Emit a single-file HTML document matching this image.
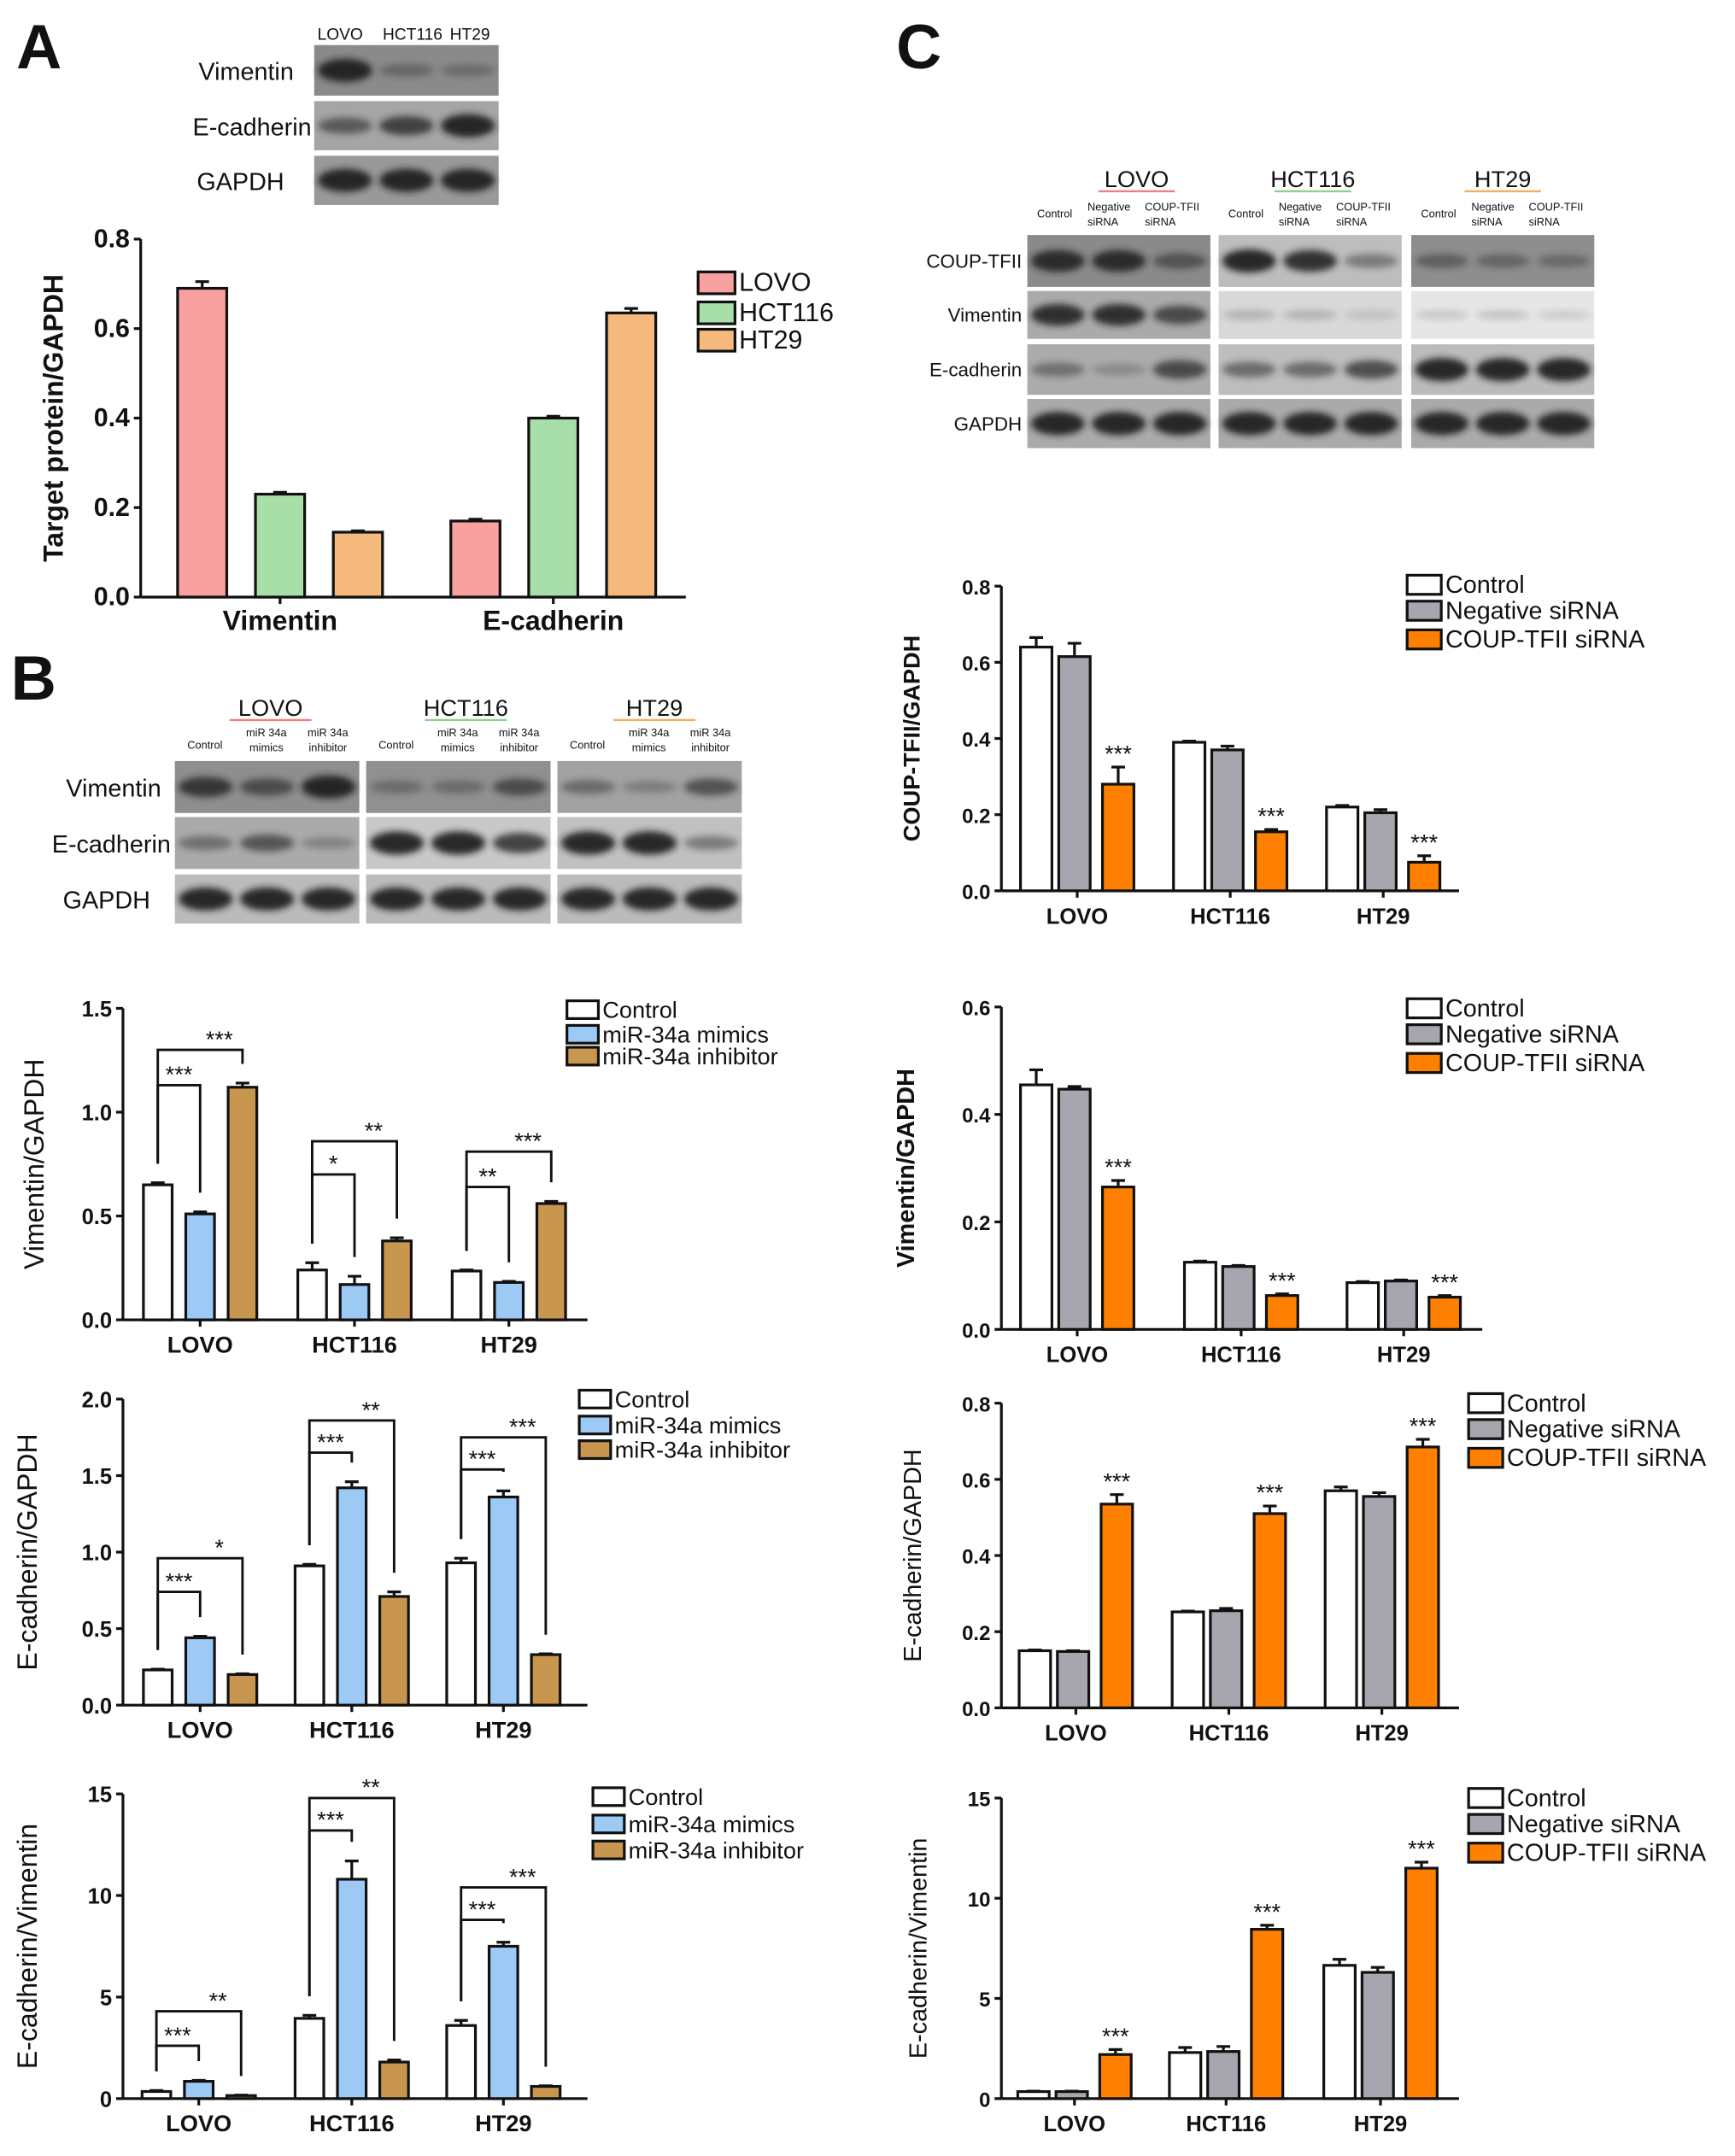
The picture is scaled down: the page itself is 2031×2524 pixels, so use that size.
<!DOCTYPE html>
<html><head><meta charset="utf-8"><style>
html,body{margin:0;padding:0;background:#fff;}
svg{display:block;}
text{font-family:"Liberation Sans",Arial,sans-serif;}
</style></head><body>
<svg id="fig" xmlns="http://www.w3.org/2000/svg" width="2031" height="2524" viewBox="0 0 1270 1578" preserveAspectRatio="none">
<defs><filter id="blur" x="-20%" y="-50%" width="140%" height="200%"><feGaussianBlur stdDeviation="2.5"/></filter></defs>
</svg>
<script>
// ---------- Panel A data ----------
const aCategories = ['Vimentin', 'E-cadherin'];
const aSeries = ['LOVO', 'HCT116', 'HT29'];
const aLOVO = [0.69, 0.17];
const aHCT116 = [0.23, 0.40];
const aHT29 = [0.145, 0.635];
const aErrLOVO = [0.015, 0.004];
const aErrHCT116 = [0.004, 0.004];
const aErrHT29 = [0.003, 0.01];
const aTicks = ['0.0', '0.2', '0.4', '0.6', '0.8'];
// ---------- Panel B data ----------
const bGroups = ['LOVO', 'HCT116', 'HT29'];
const bSeries = ['Control', 'miR-34a mimics', 'miR-34a inhibitor'];
const bVimControl = [0.65, 0.24, 0.235];
const bVimMimics = [0.51, 0.17, 0.18];
const bVimInhib = [1.12, 0.38, 0.56];
const bVimErrControl = [0.01, 0.035, 0.005];
const bVimErrMimics = [0.01, 0.04, 0.005];
const bVimErrInhib = [0.02, 0.015, 0.01];
const bVimTicks = ['0.0', '0.5', '1.0', '1.5'];
const bVimBrackets = [[0, 1, 1.13, '***'], [0, 2, 1.3, '***'], [1, 1, 0.7, '*'], [1, 2, 0.86, '**'], [2, 1, 0.64, '**'], [2, 2, 0.81, '***']];
const bEcControl = [0.23, 0.91, 0.93];
const bEcMimics = [0.44, 1.42, 1.36];
const bEcInhib = [0.20, 0.71, 0.33];
const bEcErrControl = [0.005, 0.01, 0.03];
const bEcErrMimics = [0.01, 0.04, 0.04];
const bEcErrInhib = [0.005, 0.03, 0.005];
const bEcTicks = ['0.0', '0.5', '1.0', '1.5', '2.0'];
const bEcBrackets = [[0, 1, 0.74, '***'], [0, 2, 0.96, '*'], [1, 1, 1.65, '***'], [1, 2, 1.86, '**'], [2, 1, 1.54, '***'], [2, 2, 1.75, '***']];
const bRatControl = [0.35, 3.95, 3.6];
const bRatMimics = [0.85, 10.8, 7.5];
const bRatInhib = [0.15, 1.8, 0.6];
const bRatErrControl = [0.05, 0.15, 0.25];
const bRatErrMimics = [0.05, 0.9, 0.2];
const bRatErrInhib = [0.02, 0.1, 0.03];
const bRatTicks = ['0', '5', '10', '15'];
const bRatBrackets = [[0, 1, 2.6, '***'], [0, 2, 4.3, '**'], [1, 1, 13.2, '***'], [1, 2, 14.8, '**'], [2, 1, 8.8, '***'], [2, 2, 10.4, '***']];
// ---------- Panel C data ----------
const cGroups = ['LOVO', 'HCT116', 'HT29'];
const cSeries = ['Control', 'Negative siRNA', 'COUP-TFII siRNA'];
const cCoupControl = [0.64, 0.39, 0.22];
const cCoupNeg = [0.615, 0.37, 0.205];
const cCoupSi = [0.28, 0.155, 0.075];
const cCoupErrControl = [0.025, 0.003, 0.004];
const cCoupErrNeg = [0.035, 0.01, 0.008];
const cCoupErrSi = [0.045, 0.006, 0.017];
const cCoupTicks = ['0.0', '0.2', '0.4', '0.6', '0.8'];
const cVimControl = [0.455, 0.125, 0.087];
const cVimNeg = [0.447, 0.117, 0.09];
const cVimSi = [0.265, 0.063, 0.06];
const cVimErrControl = [0.028, 0.002, 0.002];
const cVimErrNeg = [0.005, 0.002, 0.002];
const cVimErrSi = [0.012, 0.003, 0.003];
const cVimTicks = ['0.0', '0.2', '0.4', '0.6'];
const cEcControl = [0.15, 0.252, 0.57];
const cEcNeg = [0.148, 0.255, 0.555];
const cEcSi = [0.535, 0.51, 0.685];
const cEcErrControl = [0.002, 0.002, 0.01];
const cEcErrNeg = [0.002, 0.006, 0.01];
const cEcErrSi = [0.025, 0.02, 0.02];
const cEcTicks = ['0.0', '0.2', '0.4', '0.6', '0.8'];
const cRatControl = [0.35, 2.3, 6.65];
const cRatNeg = [0.35, 2.35, 6.3];
const cRatSi = [2.2, 8.45, 11.5];
const cRatErrControl = [0.02, 0.25, 0.3];
const cRatErrNeg = [0.02, 0.25, 0.25];
const cRatErrSi = [0.25, 0.2, 0.3];
const cRatTicks = ['0', '5', '10', '15'];

const NS = 'http://www.w3.org/2000/svg';
const svg = document.getElementById('fig');
function mk(tag, attrs, parent) {
  const el = document.createElementNS(NS, tag);
  for (const k in attrs) el.setAttribute(k, attrs[k]);
  (parent || svg).appendChild(el);
  return el;
}
function txt(x, y, s, size, weight, anchor, parent, rot) {
  const t = mk('text', {x: x, y: y, 'font-size': size, 'font-weight': weight || 'normal', 'text-anchor': anchor || 'start', fill: '#111'}, parent);
  if (rot) t.setAttribute('transform', 'rotate(-90 ' + x + ' ' + y + ')');
  t.textContent = s;
  return t;
}
function grp(name) {
  const g = mk('g', {});
  
  
  return g;
}

// ---------- panel letters ----------
[['A', 12, 50], ['B', 8, 512], ['C', 656, 50]].forEach(function (p) {
  const t = txt(p[1], p[2], p[0], 46, 'bold', 'start');
  
  
});

// ---------- blots ----------
function blotPanel(g, x, y, w, h, bg, ints) {
  const r = mk('rect', {x: x, y: y, width: w, height: h, fill: bg}, g);
  
  
  const n = ints.length, lw = w / n;
  ints.forEach(function (v, i) {
    const e = mk('ellipse', {cx: x + lw * (i + 0.5), cy: y + h / 2, rx: lw * 0.44, ry: 3 + 5.5 * v, fill: '#1a1a1a', opacity: Math.min(0.92, v * 0.9 + 0.05), filter: 'url(#blur)'}, g);
    
    
  });
}
// A blot
(function () {
  const g = grp('blot-a');
  const rows = [['Vimentin', 33, 37, '#8a8a8a', [1, 0.3, 0.25], 215],
                ['E-cadherin', 74, 36, '#a5a5a5', [0.55, 0.75, 1], 228],
                ['GAPDH', 114, 36, '#999', [1, 1, 1], 208]];
  rows.forEach(function (r) {
    blotPanel(g, 230, r[1], 135, r[2], r[3], r[4]);
    txt(r[5], r[1] + r[2] / 2 + 7, r[0], 18, 'normal', 'end', g);
  });
  txt(249, 29, 'LOVO', 12, 'normal', 'middle', g);
  txt(302, 29, 'HCT116', 12, 'normal', 'middle', g);
  txt(344, 29, 'HT29', 12, 'normal', 'middle', g);
})();
// B blot
(function () {
  const g = grp('blot-b');
  const xs = [128, 268, 408];
  const rows = [['Vimentin', 557, 38, ['#8e8e8e', '#909090', '#a2a2a2'], [[0.8, 0.6, 1], [0.3, 0.3, 0.6], [0.4, 0.25, 0.6]], 118],
                ['E-cadherin', 598, 38, ['#aaa', '#c8c8c8', '#c0c0c0'], [[0.4, 0.6, 0.25], [1, 1, 0.8], [1, 1, 0.4]], 125],
                ['GAPDH', 640, 36, ['#bbb', '#bbb', '#bbb'], [[1, 1, 1], [1, 1, 1], [1, 1, 1]], 110]];
  rows.forEach(function (r) {
    xs.forEach(function (x, i) { blotPanel(g, x, r[1], 135, r[2], r[3][i], r[4][i]); });
    txt(r[5], r[1] + r[2] / 2 + 7, r[0], 18, 'normal', 'end', g);
  });
  const hdr = [['LOVO', 198, '#f08080'], ['HCT116', 341, '#90d090'], ['HT29', 479, '#f0b060']];
  hdr.forEach(function (h) {
    txt(h[1], 524, h[0], 17, 'normal', 'middle', g);
    mk('line', {x1: h[1] - 30, x2: h[1] + 30, y1: 527, y2: 527, stroke: h[2], 'stroke-width': 1.5}, g);
  });
  xs.forEach(function (x) {
    txt(x + 22, 548, 'Control', 8, 'normal', 'middle', g);
    txt(x + 67, 539, 'miR 34a', 8, 'normal', 'middle', g);
    txt(x + 67, 550, 'mimics', 8, 'normal', 'middle', g);
    txt(x + 112, 539, 'miR 34a', 8, 'normal', 'middle', g);
    txt(x + 112, 550, 'inhibitor', 8, 'normal', 'middle', g);
  });
})();
// C blot
(function () {
  const g = grp('blot-c');
  const xs = [752, 892, 1033];
  const rows = [['COUP-TFII', 172, 38, ['#8a8a8a', '#bdbdbd', '#8e8e8e'], [[0.9, 0.9, 0.5], [1, 0.9, 0.4], [0.4, 0.35, 0.3]]],
                ['Vimentin', 213, 35, ['#aaa', '#d8d8d8', '#e6e6e6'], [[0.9, 0.9, 0.7], [0.15, 0.15, 0.08], [0.1, 0.12, 0.08]]],
                ['E-cadherin', 252, 37, ['#ababab', '#bdbdbd', '#bbb'], [[0.4, 0.2, 0.7], [0.5, 0.5, 0.7], [1, 1, 1]]],
                ['GAPDH', 292, 36, ['#aaa', '#aaa', '#aaa'], [[1, 1, 1], [1, 1, 1], [1, 1, 1]]]];
  rows.forEach(function (r) {
    xs.forEach(function (x, i) { blotPanel(g, x, r[1], 134, r[2], r[3][i], r[4][i]); });
    txt(748, r[1] + r[2] / 2 + 5, r[0], 14, 'normal', 'end', g);
  });
  const hdr = [['LOVO', 832, '#f08080'], ['HCT116', 961, '#90d090'], ['HT29', 1100, '#f0b060']];
  hdr.forEach(function (h) {
    txt(h[1], 137, h[0], 17, 'normal', 'middle', g);
    mk('line', {x1: h[1] - 28, x2: h[1] + 28, y1: 140, y2: 140, stroke: h[2], 'stroke-width': 1.5}, g);
  });
  xs.forEach(function (x) {
    txt(x + 20, 159, 'Control', 8, 'normal', 'middle', g);
    txt(x + 44, 154, 'Negative', 8, 'normal', 'start', g);
    txt(x + 44, 165, 'siRNA', 8, 'normal', 'start', g);
    txt(x + 86, 154, 'COUP-TFII', 8, 'normal', 'start', g);
    txt(x + 86, 165, 'siRNA', 8, 'normal', 'start', g);
  });
})();

// ---------- generic bar chart ----------
function chart(c) {
  const g = grp(c.name);
  const ys = function (v) { return c.y0 - v / c.ymax * (c.y0 - c.yTop); };
  const ya = mk('line', {x1: c.ax, x2: c.ax, y1: c.yTop, y2: c.y0, stroke: '#111', 'stroke-width': 2}, g);
  
  
  const xa = mk('line', {x1: c.ax, x2: c.xEnd, y1: c.y0, y2: c.y0, stroke: '#111', 'stroke-width': 2}, g);
  
  
  c.ticks.forEach(function (t, i) {
    const v = c.ymax * i / (c.ticks.length - 1);
    mk('line', {x1: c.ax - 5, x2: c.ax, y1: ys(v), y2: ys(v), stroke: '#111', 'stroke-width': 2}, g);
    const tl = txt(c.ax - 8, ys(v) + 6, t, c.tickSize, 'bold', 'end', g);
    
    
  });
  const ti = txt(c.titleX, (c.yTop + c.y0) / 2, c.title, c.titleSize, c.titleWeight, 'middle', g, true);
  
  
  const tops = [];
  c.groups.forEach(function (gname, gi) {
    tops.push([]);
    c.values.forEach(function (arr, si) {
      const x = c.starts[gi] + c.offsets[si];
      const v = arr[gi], e = c.errs[si][gi];
      const b = mk('rect', {x: x, y: ys(v), width: c.bw, height: c.y0 - ys(v), fill: c.colors[si], stroke: '#111', 'stroke-width': 2}, g);
      
      
      const mx = x + c.bw / 2;
      mk('line', {x1: mx, x2: mx, y1: ys(v), y2: ys(v + e), stroke: '#111', 'stroke-width': 2}, g);
      mk('line', {x1: mx - 5, x2: mx + 5, y1: ys(v + e), y2: ys(v + e), stroke: '#111', 'stroke-width': 2}, g);
      tops[gi].push([mx, ys(v + e)]);
      if (c.stars && si === c.values.length - 1) {
        const st = txt(mx, ys(v + e) - 4, '***', 17, 'normal', 'middle', g);
        
        
      }
    });
    const gc = c.starts[gi] + (c.offsets[c.offsets.length - 1] + c.bw) / 2;
    mk('line', {x1: gc, x2: gc, y1: c.y0, y2: c.y0 + 5, stroke: '#111', 'stroke-width': 2}, g);
    const cl = txt(gc, c.y0 + 24, gname, c.catSize, 'bold', 'middle', g);
    
    
  });
  (c.brackets || []).forEach(function (br) {
    const t0 = tops[br[0]][0], t1 = tops[br[0]][br[1]];
    const yb = ys(br[2]);
    const p = mk('path', {d: 'M' + t0[0] + ' ' + (t0[1] - 14) + 'V' + yb + 'H' + t1[0] + 'V' + (t1[1] - 14), fill: 'none', stroke: '#111', 'stroke-width': 1.8}, g);
    
    
    const st = txt((t0[0] + t1[0]) / 2 + (br[1] === 2 ? 14 : 0), yb - 2, br[3], 17, 'normal', 'middle', g);
    
    
  });
  c.series.forEach(function (s, i) {
    const ly = c.legY[i];
    const sw = mk('rect', {x: c.legX, y: ly - c.swH / 2, width: c.swW, height: c.swH, fill: c.colors[i], stroke: '#111', 'stroke-width': 2}, g);
    
    
    const lt = txt(c.legX + c.swW + 3, ly + 6, s, c.legSize, 'normal', 'start', g);
    
    
  });
}

const bColors = ['#ffffff', '#9ccaf5', '#c8964e'];
const cColors = ['#ffffff', '#a7a6ae', '#ff8000'];

chart({name: 'chart-a', ax: 103, xEnd: 502, y0: 437, yTop: 175, ymax: 0.8, ticks: aTicks, tickSize: 19,
  title: 'Target protein/GAPDH', titleX: 46, titleSize: 20, titleWeight: 'bold',
  groups: aCategories, series: aSeries, values: [aLOVO, aHCT116, aHT29], errs: [aErrLOVO, aErrHCT116, aErrHT29],
  starts: [130, 330], offsets: [0, 57, 114], bw: 36, colors: ['#f9a0a0', '#a8dea8', '#f5b97e'], catSize: 20,
  legX: 511, legY: [207, 229, 249], swW: 27, swH: 16, legSize: 19});

chart({name: 'chart-b-vimentin', ax: 90, xEnd: 430, y0: 966, yTop: 738, ymax: 1.5, ticks: bVimTicks, tickSize: 16,
  title: 'Vimentin/GAPDH', titleX: 32, titleSize: 20, titleWeight: 'normal',
  groups: bGroups, series: bSeries, values: [bVimControl, bVimMimics, bVimInhib], errs: [bVimErrControl, bVimErrMimics, bVimErrInhib],
  starts: [105, 218, 331], offsets: [0, 31, 62], bw: 21, colors: bColors, catSize: 17, brackets: bVimBrackets,
  legX: 415, legY: [739, 757, 773], swW: 23, swH: 13, legSize: 17});

chart({name: 'chart-b-ecadherin', ax: 90, xEnd: 430, y0: 1248, yTop: 1024, ymax: 2.0, ticks: bEcTicks, tickSize: 16,
  title: 'E-cadherin/GAPDH', titleX: 27, titleSize: 20, titleWeight: 'normal',
  groups: bGroups, series: bSeries, values: [bEcControl, bEcMimics, bEcInhib], errs: [bEcErrControl, bEcErrMimics, bEcErrInhib],
  starts: [105, 216, 327], offsets: [0, 31, 62], bw: 21, colors: bColors, catSize: 17, brackets: bEcBrackets,
  legX: 424, legY: [1024, 1043, 1061], swW: 23, swH: 13, legSize: 17});

chart({name: 'chart-b-ratio', ax: 90, xEnd: 430, y0: 1536, yTop: 1313, ymax: 15, ticks: bRatTicks, tickSize: 16,
  title: 'E-cadherin/Vimentin', titleX: 27, titleSize: 20, titleWeight: 'normal',
  groups: bGroups, series: bSeries, values: [bRatControl, bRatMimics, bRatInhib], errs: [bRatErrControl, bRatErrMimics, bRatErrInhib],
  starts: [104, 216, 327], offsets: [0, 31, 62], bw: 21, colors: bColors, catSize: 17, brackets: bRatBrackets,
  legX: 434, legY: [1315, 1335, 1354], swW: 23, swH: 13, legSize: 17});

chart({name: 'chart-c-coup', ax: 733, xEnd: 1068, y0: 652, yTop: 429, ymax: 0.8, ticks: cCoupTicks, tickSize: 15,
  title: 'COUP-TFII/GAPDH', titleX: 673, titleSize: 17, titleWeight: 'bold',
  groups: cGroups, series: cSeries, values: [cCoupControl, cCoupNeg, cCoupSi], errs: [cCoupErrControl, cCoupErrNeg, cCoupErrSi],
  starts: [747, 859, 971], offsets: [0, 28, 60], bw: 23, colors: cColors, catSize: 16, stars: true,
  legX: 1030, legY: [428, 447, 468], swW: 25, swH: 14, legSize: 18});

chart({name: 'chart-c-vimentin', ax: 733, xEnd: 1085, y0: 973, yTop: 737, ymax: 0.6, ticks: cVimTicks, tickSize: 15,
  title: 'Vimentin/GAPDH', titleX: 669, titleSize: 18, titleWeight: 'bold',
  groups: cGroups, series: cSeries, values: [cVimControl, cVimNeg, cVimSi], errs: [cVimErrControl, cVimErrNeg, cVimErrSi],
  starts: [747, 867, 986], offsets: [0, 28, 60], bw: 23, colors: cColors, catSize: 16, stars: true,
  legX: 1030, legY: [738, 757, 778], swW: 25, swH: 14, legSize: 18});

chart({name: 'chart-c-ecadherin', ax: 733, xEnd: 1068, y0: 1250, yTop: 1027, ymax: 0.8, ticks: cEcTicks, tickSize: 15,
  title: 'E-cadherin/GAPDH', titleX: 674, titleSize: 18, titleWeight: 'normal',
  groups: cGroups, series: cSeries, values: [cEcControl, cEcNeg, cEcSi], errs: [cEcErrControl, cEcErrNeg, cEcErrSi],
  starts: [746, 858, 970], offsets: [0, 28, 60], bw: 23, colors: cColors, catSize: 16, stars: true,
  legX: 1075, legY: [1027, 1046, 1067], swW: 25, swH: 14, legSize: 18});

chart({name: 'chart-c-ratio', ax: 733, xEnd: 1068, y0: 1536, yTop: 1316, ymax: 15, ticks: cRatTicks, tickSize: 15,
  title: 'E-cadherin/Vimentin', titleX: 678, titleSize: 18, titleWeight: 'normal',
  groups: cGroups, series: cSeries, values: [cRatControl, cRatNeg, cRatSi], errs: [cRatErrControl, cRatErrNeg, cRatErrSi],
  starts: [745, 856, 969], offsets: [0, 28, 60], bw: 23, colors: cColors, catSize: 16, stars: true,
  legX: 1075, legY: [1316, 1335, 1356], swW: 25, swH: 14, legSize: 18});
</script>
</body></html>
